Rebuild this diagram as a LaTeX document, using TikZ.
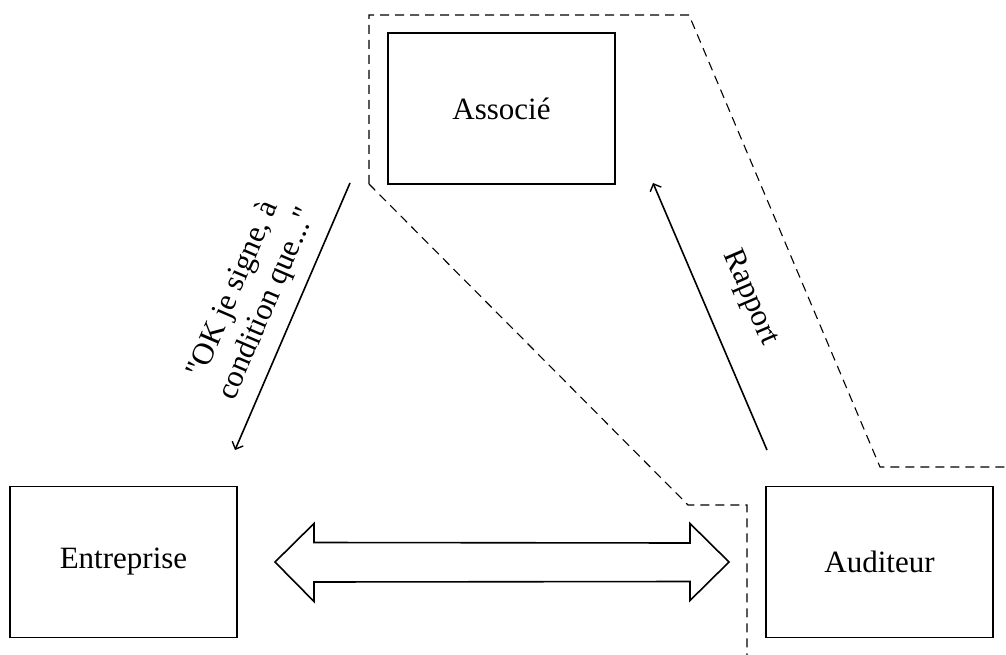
\documentclass[tikz,border=0pt]{standalone}
\usepackage{fontspec}
\setmainfont{Liberation Serif}[Ligatures=TeXOff]
\usetikzlibrary{arrows.meta}
\tikzset{
  box/.style={draw, line width=1.8pt, minimum width=227pt, minimum height=151pt, inner sep=0pt, font=\fontsize{31}{37}\selectfont},
  zone/.style={draw, line width=1.1pt, dash pattern=on 9pt off 6pt, black},
  conn/.style={line width=1.6pt, -{Straight Barb[length=6pt,width=12pt,line width=1.4pt]}},
  lbl/.style={font=\fontsize{31}{37}\selectfont, align=center, inner sep=0pt},
  bigarrow/.style={draw, line width=1.6pt, fill=white, line join=miter}
}
\begin{document}
\begin{tikzpicture}[x=1pt,y=-1pt]
\useasboundingbox (0,0) rectangle (1006,655);
% dashed zone
\draw[zone] (369,184) -- (369,15) -- (689,15) -- (880,467) -- (1006,467);
\draw[zone] (369,184) -- (688,505) -- (747,505) -- (747,655);
% boxes
\node[box] (asso) at (501.5,108.5) {Associé};
\node[box] (entr) at (123.5,562) {Entreprise};
\node[box] (audi) at (879.5,562) {Auditeur};
% connectors
\coordinate (l1) at (350,183);
\coordinate (l2) at (235,450);
\coordinate (r1) at (767,450);
\coordinate (r2) at (653,183);
\draw[conn] (l1) -- (l2);
\draw[conn] (r1) -- (r2);
% double arrow between Entreprise and Auditeur
\coordinate (dl) at (275,562);
\coordinate (dr) at (729,562);
\draw[bigarrow] (dl) -- ++(39,-38.5) -- ++(0,19) -- (690,543) -- ++(0,-19.5) -- (dr)
  -- ++(-39,38.5) -- ++(0,-19) -- (314,582) -- ++(0,19.5) -- cycle;
% labels
\node[lbl, rotate=66.7] (lab1) at (251,297) {"OK je signe, à\\condition que..."};
\node[lbl, rotate=-66.7] (lab2) at (750,298) {Rapport};
\end{tikzpicture}
\end{document}
